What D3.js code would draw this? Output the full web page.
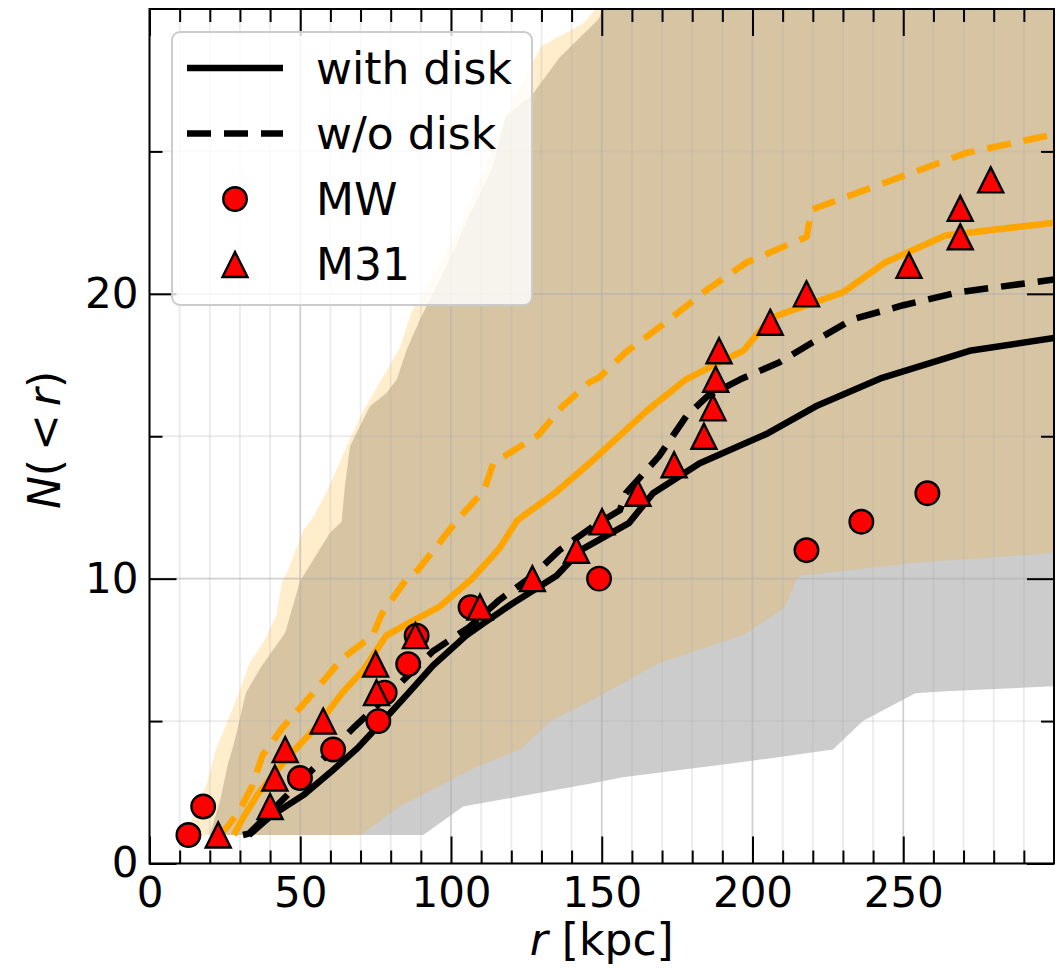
<!DOCTYPE html>
<html><head><meta charset="utf-8">
<script src="https://cdn.jsdelivr.net/npm/d3@7"></script>
<style>body{margin:0;background:#fff} svg{display:block} text{font-family:"DejaVu Sans",sans-serif}</style>
</head><body><svg id="c" width="1056" height="973"></svg>
<script>
// ---------- data ----------
const xTicks = [0, 50, 100, 150, 200, 250];
const xMinorTicks = d3.range(10, 300, 10).filter(v => v % 50 !== 0);
const yTicks = [0, 10, 20];
const yMinorTicks = [5, 15, 25];

// black lines
const withDiskR = [33, 40, 51, 60, 69, 80, 86, 94, 105, 111, 120, 135, 143, 159, 167, 182.5, 205, 221, 243, 272, 300];
const withDiskN = [1, 1.65, 2.4, 3.2, 4.05, 5.3, 6.0, 6.95, 8.0, 8.45, 9.1, 10.1, 11.0, 11.95, 13.0, 14.05, 15.1, 16.05, 17.05, 18.0, 18.45];
const woDiskR = [31, 33, 41, 55, 68, 80, 94, 106, 116, 127, 136, 148, 156, 158, 169, 178, 185, 196, 209, 220, 233, 250, 268, 300];
const woDiskN = [1, 1.05, 1.9, 3.4, 4.8, 6.0, 7.45, 8.3, 9.25, 10.1, 11.0, 11.9, 12.4, 13.0, 14.3, 15.7, 16.4, 17.0, 17.6, 18.3, 19.1, 19.6, 20.05, 20.5];
// orange lines
const orWithR = [28, 31, 36, 46, 55, 64, 71, 78.5, 87, 96, 107, 116, 122, 135, 147, 165, 178, 191, 197, 206, 230, 244, 264, 300];
const orWithN = [1, 1.6, 2.45, 3.75, 4.75, 6.0, 6.8, 8.0, 8.5, 9.0, 10.0, 11.05, 12.05, 13.05, 14.15, 15.9, 17.0, 17.7, 18.0, 19.15, 20.05, 21.1, 22.05, 22.5];
const orWoR = [23, 26, 30, 34, 37.5, 44, 54, 64, 74, 77, 85, 89, 102, 111, 114, 129, 137, 146, 149, 158, 170, 185, 198, 218, 219.5, 231, 249, 271, 300];
const orWoN = [1, 1.3, 1.9, 2.7, 3.8, 4.75, 5.95, 7.2, 8.0, 8.75, 9.95, 10.3, 12.05, 13.1, 14.05, 15.05, 16.05, 16.9, 17.05, 17.95, 18.9, 20.15, 21.1, 22.0, 22.95, 23.4, 24.1, 24.95, 25.6];

// gray band
const grayUpR = [20, 23.4, 26, 28, 32, 37, 45, 49.9, 54.3, 59.8, 63.7, 64.8, 66.5, 69.8, 73.1, 78.6, 82, 85.3, 89.7, 93, 100, 105, 114, 118, 127, 136, 149, 152, 300];
const grayUpN = [1, 2.2, 3.5, 4.2, 6.0, 6.9, 8.1, 9.9, 10.66, 11.6, 12.0, 13.24, 14.65, 15.35, 16.05, 16.52, 16.99, 18.04, 19.1, 19.8, 21.3, 22.5, 24.5, 26.2, 27.0, 28.3, 29.65, 30.5, 31];
const grayLoR = [20, 90.8, 104, 146, 157, 198, 226.7, 236.6, 254, 264, 300];
const grayLoN = [1, 1, 2.0, 2.8, 3.03, 3.58, 4.0, 5.0, 5.98, 6.05, 6.22];
// orange band
const orUpR = [12, 13.5, 19, 22, 29, 33, 38, 42, 44, 46, 51, 54, 59, 66.5, 71, 77, 83, 87, 94, 104, 113, 122, 130, 144, 152, 300];
const orUpN = [1, 1.4, 2.8, 4.0, 5.8, 7.0, 7.8, 8.7, 9.9, 10.3, 11.7, 12.1, 13.1, 14.9, 15.9, 17.0, 18.1, 19.4, 20.6, 22.6, 24.9, 27.1, 28.7, 29.5, 30.5, 31];
const orLoR = [12, 70, 83, 108.5, 123, 133, 146, 169, 197, 210.7, 214.5, 216, 253, 300];
const orLoN = [1, 1, 2.0, 3.4, 4.0, 5.0, 5.7, 7.03, 8.03, 8.97, 9.96, 10.1, 10.55, 10.9];

// observations
const mwR = [12.9, 17.8, 49.9, 60.9, 75.9, 78, 85.8, 88.6, 106.5, 149.1, 217.9, 236.1, 258];
const mwN = [1, 2, 3, 4, 5, 6, 7, 8, 9, 10, 11, 12, 13];
const m31R = [22.8, 40, 41.6, 45, 57.6, 75.3, 75, 88.2, 109.6, 127, 141.6, 150.1, 162, 174, 183.9, 186.9, 187.8, 188.9, 205.9, 217.9, 251.9, 268.9, 268.9, 279];
const m31N = [1, 2, 3, 4, 5, 6, 7, 8, 9, 10, 11, 12, 13, 14, 15, 16, 17, 18, 19, 20, 21, 22, 23, 24];

const legendLabels = ["with disk", "w/o disk", "MW", "M31"];

// ---------- layout ----------
const L = 149.5, R = 1054, T = 9, B = 863.5;
const x = d3.scaleLinear([0, 300], [L, R]);
const y = d3.scaleLinear([0, 30], [B, T]);
const svg = d3.select("#c");
const zip = (a, b) => a.map((v, i) => [v, b[i]]);

svg.append("defs").append("clipPath").attr("id", "clip")
  .append("rect").attr("x", L).attr("y", T).attr("width", R - L).attr("height", B - T);
const plot = svg.append("g").attr("clip-path", "url(#clip)");

const line = d3.line().x(d => x(d[0])).y(d => y(d[1]));
function band(upR, upN, loR, loN) {
  const pts = zip(upR, upN).concat(zip(loR, loN).reverse());
  return line(pts) + "Z";
}
plot.append("path").attr("d", band(grayUpR, grayUpN, grayLoR, grayLoN))
  .attr("fill", "gray").attr("fill-opacity", 0.4);
plot.append("path").attr("d", band(orUpR, orUpN, orLoR, orLoN))
  .attr("fill", "orange").attr("fill-opacity", 0.2);

// grid
const grid = plot.append("g");
grid.selectAll(".vmin").data(xMinorTicks).join("line")
  .attr("x1", d => x(d)).attr("x2", d => x(d)).attr("y1", T).attr("y2", B)
  .attr("stroke", "#b0b0b0").attr("stroke-opacity", 0.25).attr("stroke-width", 1.8);
grid.selectAll(".vmaj").data(xTicks).join("line")
  .attr("x1", d => x(d)).attr("x2", d => x(d)).attr("y1", T).attr("y2", B)
  .attr("stroke", "#b0b0b0").attr("stroke-opacity", 0.6).attr("stroke-width", 1.8);
grid.selectAll(".hmin").data(yMinorTicks).join("line")
  .attr("x1", L).attr("x2", R).attr("y1", d => y(d)).attr("y2", d => y(d))
  .attr("stroke", "#b0b0b0").attr("stroke-opacity", 0.25).attr("stroke-width", 1.8);
grid.selectAll(".hmaj").data(yTicks).join("line")
  .attr("x1", L).attr("x2", R).attr("y1", d => y(d)).attr("y2", d => y(d))
  .attr("stroke", "#b0b0b0").attr("stroke-opacity", 0.6).attr("stroke-width", 1.8);

// lines
const DASH = "24,13";
const series = [
  {r: orWithR, n: orWithN, c: "orange", dash: null},
  {r: orWoR, n: orWoN, c: "orange", dash: DASH},
  {r: withDiskR, n: withDiskN, c: "black", dash: null},
  {r: woDiskR, n: woDiskN, c: "black", dash: DASH},
];
series.forEach(s => {
  plot.append("path").attr("d", line(zip(s.r, s.n)))
    .attr("fill", "none").attr("stroke", s.c).attr("stroke-width", 6.5)
    .attr("stroke-linejoin", "round")
    .attr("stroke-dasharray", s.dash);
});

// markers
const MS = 23.5, TS = 25;
svg.append("g").selectAll("circle").data(zip(mwR, mwN)).join("circle")
  .attr("cx", d => x(d[0])).attr("cy", d => y(d[1])).attr("r", MS / 2)
  .attr("fill", "red").attr("stroke", "black").attr("stroke-width", 2.4);
const tri = d3.symbol().type({draw(ctx, s) { const h = s; ctx.moveTo(0, -h/2); ctx.lineTo(h/2, h/2); ctx.lineTo(-h/2, h/2); ctx.closePath(); }}).size(TS);
svg.append("g").selectAll("path").data(zip(m31R, m31N)).join("path")
  .attr("transform", d => `translate(${x(d[0])},${y(d[1])})`)
  .attr("d", tri)
  .attr("fill", "red").attr("stroke", "black").attr("stroke-width", 2.4).attr("stroke-linejoin", "miter");

// axes (inward ticks on all four sides)
function styleAxis(g, fs) {
  g.select(".domain").remove();
  g.selectAll(".tick line").attr("stroke", "black").attr("stroke-width", 2);
  g.selectAll("text").attr("font-size", fs).attr("font-family", "DejaVu Sans").attr("fill", "black");
}
const FS = 42;
svg.append("g").attr("transform", `translate(0,${B})`)
  .call(d3.axisBottom(x).tickValues(xTicks).tickSize(-27).tickPadding(14).tickFormat(d3.format("d")))
  .call(g => styleAxis(g, FS));
svg.append("g").attr("transform", `translate(0,${B})`)
  .call(d3.axisBottom(x).tickValues(xMinorTicks).tickSize(-13).tickFormat(""))
  .call(g => styleAxis(g, FS));
svg.append("g").attr("transform", `translate(0,${T})`)
  .call(d3.axisTop(x).tickValues(xTicks).tickSize(-27).tickFormat(""))
  .call(g => styleAxis(g, FS));
svg.append("g").attr("transform", `translate(0,${T})`)
  .call(d3.axisTop(x).tickValues(xMinorTicks).tickSize(-13).tickFormat(""))
  .call(g => styleAxis(g, FS));
svg.append("g").attr("transform", `translate(${L},0)`)
  .call(d3.axisLeft(y).tickValues(yTicks).tickSize(-27).tickPadding(11).tickFormat(d3.format("d")))
  .call(g => styleAxis(g, FS));
svg.append("g").attr("transform", `translate(${L},0)`)
  .call(d3.axisLeft(y).tickValues(yMinorTicks).tickSize(-13).tickFormat(""))
  .call(g => styleAxis(g, FS));
svg.append("g").attr("transform", `translate(${R},0)`)
  .call(d3.axisRight(y).tickValues(yTicks).tickSize(-27).tickFormat(""))
  .call(g => styleAxis(g, FS));
svg.append("g").attr("transform", `translate(${R},0)`)
  .call(d3.axisRight(y).tickValues(yMinorTicks).tickSize(-13).tickFormat(""))
  .call(g => styleAxis(g, FS));

// frame
svg.append("rect").attr("x", L).attr("y", T).attr("width", R - L).attr("height", B - T)
  .attr("fill", "none").attr("stroke", "black").attr("stroke-width", 2);

// axis labels
const xl = svg.append("text").attr("x", (L + R) / 2).attr("y", 955).attr("text-anchor", "middle")
  .attr("font-size", 44).attr("fill", "black");
xl.append("tspan").attr("font-style", "italic").text("r");
xl.append("tspan").text(" [kpc]");
const yl = svg.append("text").attr("transform", "translate(60,440) rotate(-90)").attr("text-anchor", "middle")
  .attr("font-size", 44).attr("fill", "black");
yl.append("tspan").attr("font-style", "italic").text("N");
yl.append("tspan").text("(");
yl.append("tspan").attr("dx", 8).text("<");
yl.append("tspan").attr("dx", 8).attr("font-style", "italic").text("r");
yl.append("tspan").text(")");

// legend
const lg = svg.append("g");
lg.append("rect").attr("x", 172).attr("y", 32).attr("width", 360).attr("height", 273).attr("rx", 8)
  .attr("fill", "white").attr("fill-opacity", 0.8).attr("stroke", "#cccccc").attr("stroke-width", 2);
const rowY = [68, 133.5, 199, 264.5];
[null, DASH].forEach((dash, i) => {
  lg.append("line").attr("x1", 187).attr("x2", 283).attr("y1", rowY[i]).attr("y2", rowY[i])
    .attr("stroke", "black").attr("stroke-width", 6.5).attr("stroke-dasharray", dash);
});
lg.append("circle").attr("cx", 235).attr("cy", rowY[2]).attr("r", MS / 2)
  .attr("fill", "red").attr("stroke", "black").attr("stroke-width", 2.4);
lg.append("path").attr("transform", `translate(235,${rowY[3]})`).attr("d", tri)
  .attr("fill", "red").attr("stroke", "black").attr("stroke-width", 2.4);
legendLabels.forEach((t, i) => {
  lg.append("text").attr("x", 316).attr("y", rowY[i] + 15.5).attr("font-size", 44).attr("fill", "black").text(t);
});
</script></body></html>
